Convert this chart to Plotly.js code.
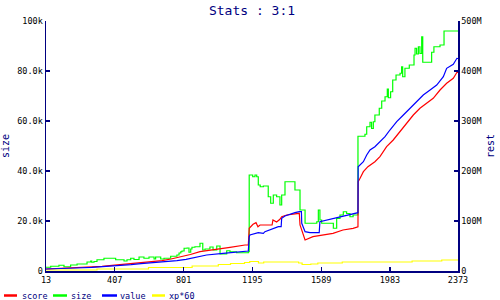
<!DOCTYPE html>
<html>
<head>
<meta charset="utf-8">
<script src="https://cdn.plot.ly/plotly-3.0.1.min.js"></script>
<style>html,body{margin:0;padding:0;background:#fff;}#chart{width:500px;height:300px;}</style>
</head>
<body>
<div id="chart"></div>
<script>
// ---- data ----
const xTickVals = [13, 407, 801, 1195, 1589, 1983, 2373];
const sizeTickVals = [0, 20000, 40000, 60000, 80000, 100000];
const sizeTickText = ['0', '20.0k', '40.0k', '60.0k', '80.0k', '100k'];
const restTickVals = [0, 100, 200, 300, 400, 500];
const restTickText = ['0', '100M', '200M', '300M', '400M', '500M'];

// size (left axis)
const sizeX = [13,40,87,116,154,191,248,269,275,288,
  305,345,402,412,448,460,477,498,517,546,
  574,603,632,641,670,689,727,763,775,785,
  792,804,821,832,842,849,866,895,911,924,
  952,970,991,1010,1048,1067,1105,1153,1172,1177,
  1197,1210,1220,1229,1240,1258,1286,1300,1315,1334,
  1353,1363,1382,1430,1439,1468,1497,1564,1573,1582,
  1592,1649,1659,1678,1697,1716,1735,1754,1772,1800,
  1840,1850,1869,1878,1888,1897,1922,1936,1955,1968,
  1974,1987,1999,2018,2041,2050,2056,2069,2094,2121,
  2127,2136,2146,2155,2165,2171,2222,2235,2270,2293,
  2373];
const sizeY = [1500,1900,2300,1700,2400,2800,3600,4000,3500,3800,
  4500,5100,5100,4500,4500,4000,4500,5100,4600,5600,
  5100,5600,4800,5600,4800,5100,5900,6400,7200,7700,
  8000,9100,9200,7500,8800,9500,9700,11100,8400,8800,
  9600,8400,10000,6800,8100,7700,7300,7300,7700,38400,
  37700,38400,37700,34400,33700,34000,29700,27100,30400,29700,
  26400,30400,35700,35700,32400,24400,19100,19700,24400,20400,
  19100,19100,17100,21000,22400,23700,23000,21700,22400,53900,
  54700,57700,59500,57000,59700,62400,65100,68000,69700,72800,
  69300,71700,76400,78400,79100,81700,77700,81100,82400,86400,
  89100,86800,89700,87000,93700,83500,87500,89700,90400,96000,
  96000];

// score (right axis, millions)
const scoreX = [13,173,248,334,391,471,517,557,632,677,
  729,775,804,840,895,970,1067,1153,1172,1177,
  1199,1216,1227,1239,1308,1313,1334,1353,1363,1392,
  1430,1464,1468,1478,1497,1542,1600,1657,1714,1772,
  1800,1801,1812,1831,1857,1897,1926,1964,2002,2041,
  2079,2117,2155,2194,2231,2270,2308,2346,2367,2373];
const scoreY = [4,6,7.4,9.4,11.4,13.4,15.4,16.6,19.4,20.6,
  24,27.4,29.4,33,38.6,42,47.4,52,52,85.4,
  93.4,96.6,88.6,92,92,102,98,103.4,108.6,112,
  114,115.4,92,82,62,68.6,72,75.4,82,85.4,
  88.6,178.6,185.4,198.6,208.6,218.6,228.6,248.6,262,278.6,
  295.4,312,325.4,335.4,345.4,362,375.4,385.4,397.4,397];

// value (right axis, millions)
const valueX = [13,116,185,276,345,402,500,557,632,689,
  763,815,844,855,933,1027,1105,1172,1177,1181,
  1229,1258,1267,1296,1325,1344,1360,1363,1382,1411,
  1439,1464,1476,1478,1497,1525,1578,1582,1621,1668,
  1716,1754,1800,1801,1812,1831,1850,1869,1897,1926,
  1955,1983,2022,2060,2098,2136,2174,2213,2251,2289,
  2308,2346,2367,2373];
const valueY = [4,4.6,6,7.4,8.6,10.6,12.6,14.6,16.6,18.6,
  20.6,23.4,25.4,27.4,32,35.4,37.4,40,68.6,72,
  76.6,75.4,78.6,82,85.4,88.6,88.6,105.4,110,114,
  116.6,118.6,118.6,95.4,78.6,76.6,76.6,98.6,102,105.4,
  110,114,116.6,208.6,212,218.6,232,242,248.6,258.6,
  268.6,282,298.6,312,325.4,338.6,352,362,372,388.6,
  405.4,413.4,425.4,425];

// xp*60 (right axis, millions)
const xpX = [13,305,600,850,1000,1070,1150,1180,1230,1260,1460,1480,1530,1570,1710,2110,2280,2373];
const xpY = [2,4,7,10,13,15,17,19,16,18,16,13,14,16,18,20,22,22];

const seriesNames = ['score', 'size', 'value', 'xp*60'];
const seriesColors = ['#ff0000', '#00ff00', '#0000ff', '#ffff00'];

// ---- chart ----
const NAVY = '#000080';
const MONO = 'DejaVu Sans Mono, Liberation Mono, monospace';

const traces = [
  {x: sizeX, y: sizeY, name: seriesNames[1], type: 'scatter', mode: 'lines',
   line: {color: seriesColors[1], width: 1.2, shape: 'hv'}, yaxis: 'y'},
  {x: xpX, y: xpY, name: seriesNames[3], type: 'scatter', mode: 'lines',
   line: {color: seriesColors[3], width: 1.2, shape: 'hv'}, yaxis: 'y2'},
  {x: scoreX, y: scoreY, name: seriesNames[0], type: 'scatter', mode: 'lines',
   line: {color: seriesColors[0], width: 1.2}, yaxis: 'y2'},
  {x: valueX, y: valueY, name: seriesNames[2], type: 'scatter', mode: 'lines',
   line: {color: seriesColors[2], width: 1.2}, yaxis: 'y2'}
];

const L = 46, R = 458, T = 21, B = 271;
const px = v => (v - L) / (R - L);
const py = v => (B - v) / (B - T);

const legendSwatches = [[4, 17], [53, 67], [102, 117], [152, 165]];
const legendTextX = [20, 69, 118, 167];
const legendY = 295.5;

const shapes = seriesNames.map((n, i) => ({
  type: 'line', xref: 'paper', yref: 'paper',
  x0: px(legendSwatches[i][0]), x1: px(legendSwatches[i][1]),
  y0: py(legendY), y1: py(legendY),
  line: {color: seriesColors[i], width: 2.5}
}));
const annotations = seriesNames.map((n, i) => ({
  text: n, xref: 'paper', yref: 'paper', x: px(legendTextX[i]), y: py(legendY),
  xanchor: 'left', yanchor: 'middle', showarrow: false,
  font: {family: MONO, size: 8.5, color: NAVY}
}));

const axisCommon = {
  showgrid: false, zeroline: false, showline: true, linecolor: NAVY, linewidth: 1.5,
  ticks: 'inside', ticklen: 4, tickwidth: 1.2, tickcolor: NAVY,
  tickfont: {family: MONO, size: 8.5, color: '#000000'}, fixedrange: true
};

const layout = {
  width: 500, height: 300,
  margin: {l: L, r: 500 - R, t: T, b: 300 - B, pad: 0},
  paper_bgcolor: '#ffffff', plot_bgcolor: '#ffffff',
  showlegend: false,
  title: {text: 'Stats : 3:1', font: {family: MONO, size: 13, color: NAVY},
          x: 0.5, xanchor: 'center', xref: 'paper', y: 1 - 10 / 300, yref: 'container', yanchor: 'middle'},
  xaxis: Object.assign({}, axisCommon, {range: [13, 2373], tickvals: xTickVals,
          ticktext: xTickVals.map(String)}),
  yaxis: Object.assign({}, axisCommon, {range: [0, 100000], tickvals: sizeTickVals, ticktext: sizeTickText,
          title: {text: 'size', font: {family: MONO, size: 10, color: NAVY}, standoff: 6}}),
  yaxis2: Object.assign({}, axisCommon, {range: [0, 500], tickvals: restTickVals, ticktext: restTickText,
          overlaying: 'y', side: 'right',
          title: {text: 'rest', font: {family: MONO, size: 10, color: NAVY}, standoff: 6}}),
  shapes: shapes,
  annotations: annotations
};

Plotly.newPlot('chart', traces, layout, {staticPlot: true, displayModeBar: false});
</script>
</body>
</html>
